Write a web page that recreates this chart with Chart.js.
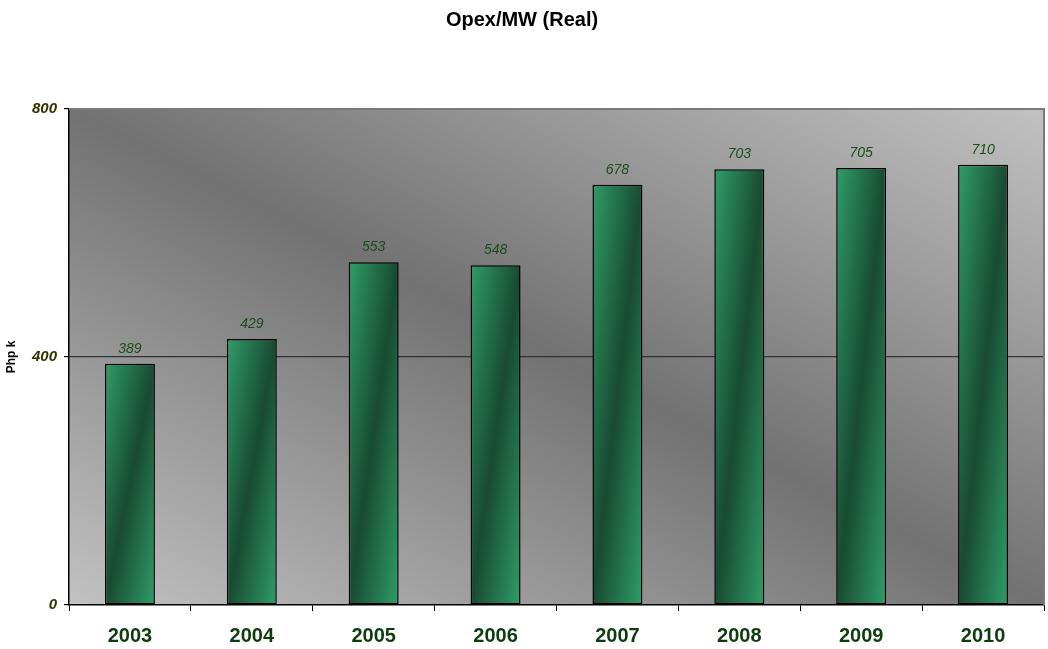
<!DOCTYPE html>
<html>
<head>
<meta charset="utf-8">
<title>Opex/MW (Real)</title>
<script src="https://cdn.jsdelivr.net/npm/chart.js@4/dist/chart.umd.min.js"></script>
<style>
  html, body { margin: 0; padding: 0; background: #ffffff; }
  #wrap { width: 1048px; height: 649px; }
</style>
</head>
<body>
<div id="wrap"><canvas id="chart" width="1048" height="649"></canvas></div>
<script>
// Opex per MW in real terms, thousands of pesos
const years = ['2003', '2004', '2005', '2006', '2007', '2008', '2009', '2010'];
const opexPerMW = [389, 429, 553, 548, 678, 703, 705, 710];
const yTicks = [0, 400, 800];

const FONT = '"Liberation Sans", Arial, sans-serif';

// Diagonal light-dark-light shading across the plot area
const plotBackground = {
  id: 'plotBackground',
  beforeDraw(chart) {
    const a = chart.chartArea;
    if (!a) return;
    const ctx = chart.ctx;
    const w = a.right - a.left, h = a.bottom - a.top;
    const cx = a.left + w / 2, cy = a.top + h / 2;
    const k = (w * h) / (w * w + h * h);
    // isolines run parallel to the top-left / bottom-right diagonal
    const g = ctx.createLinearGradient(cx - k * h, cy + k * w, cx + k * h, cy - k * w);
    g.addColorStop(0, '#c2c2c2');
    g.addColorStop(0.5, '#727272');
    g.addColorStop(1, '#c2c2c2');
    ctx.save();
    ctx.fillStyle = g;
    ctx.fillRect(a.left, a.top, w, h);
    ctx.restore();
  },
  afterDraw(chart) {
    const a = chart.chartArea;
    const ctx = chart.ctx;
    ctx.save();
    ctx.strokeStyle = '#7a7a7a';
    ctx.lineWidth = 2;
    ctx.beginPath();
    ctx.moveTo(a.left, a.top);
    ctx.lineTo(a.right, a.top);
    ctx.lineTo(a.right, a.bottom);
    ctx.stroke();
    ctx.restore();
  }
};

// Value labels above each bar
const valueLabels = {
  id: 'valueLabels',
  afterDatasetsDraw(chart) {
    const ctx = chart.ctx;
    const meta = chart.getDatasetMeta(0);
    ctx.save();
    ctx.font = 'italic 14px ' + FONT;
    ctx.fillStyle = '#1d4a1d';
    ctx.textAlign = 'center';
    ctx.textBaseline = 'middle';
    meta.data.forEach((bar, i) => {
      ctx.fillText(String(opexPerMW[i]), bar.x, bar.y - 15);
    });
    ctx.restore();
  }
};

// Each bar gets its own diagonal gradient: light corners, dark band along
// the top-right / bottom-left diagonal
function barFill(context) {
  const chart = context.chart;
  const xs = chart.scales.x, ys = chart.scales.y;
  if (!xs || !ys || !chart.chartArea) return '#2a8a5c';
  const i = context.dataIndex;
  const v = opexPerMW[i];
  const cx = xs.getPixelForValue(i);
  const bw = (xs.width / years.length) * 0.41;
  const top = ys.getPixelForValue(v);
  const base = ys.getPixelForValue(0);
  const w = bw, h = base - top;
  const my = top + h / 2;
  const k = (w * h) / (w * w + h * h);
  const g = chart.ctx.createLinearGradient(cx - k * h, my - k * w, cx + k * h, my + k * w);
  g.addColorStop(0, '#2f9d68');
  g.addColorStop(0.5, '#184a32');
  g.addColorStop(1, '#2f9d68');
  return g;
}

new Chart(document.getElementById('chart'), {
  type: 'bar',
  data: {
    labels: years,
    datasets: [{
      data: opexPerMW,
      backgroundColor: barFill,
      borderColor: '#000000',
      borderWidth: 1.5,
      borderSkipped: false,
      barPercentage: 0.41,
      categoryPercentage: 1.0
    }]
  },
  options: {
    responsive: false,
    animation: false,
    layout: { padding: { left: 0, right: 4, top: 0, bottom: 0 } },
    plugins: {
      legend: { display: false },
      tooltip: { enabled: false },
      title: {
        display: true,
        text: 'Opex/MW (Real)',
        color: '#000000',
        font: { family: FONT, size: 20, weight: 'bold' },
        padding: { top: 8, bottom: 77 }
      }
    },
    scales: {
      x: {
        offset: true,
        border: { display: true, color: '#000000', width: 1.5 },
        grid: {
          offset: true,
          drawOnChartArea: false,
          drawTicks: true,
          tickLength: 6,
          tickColor: '#000000'
        },
        ticks: {
          color: '#0d3d0d',
          padding: 13,
          font: { family: FONT, size: 20, weight: 'bold' }
        },
        afterFit(scale) { scale.height = 44; }
      },
      y: {
        min: 0,
        max: 800,
        afterBuildTicks(scale) { scale.ticks = yTicks.map(v => ({ value: v })); },
        border: { display: true, color: '#000000', width: 1.5 },
        grid: {
          color: ctx => (ctx.tick && ctx.tick.value === 400) ? '#333333' : 'rgba(0,0,0,0)',
          lineWidth: 1.2,
          drawTicks: true,
          tickLength: 5,
          tickColor: '#000000'
        },
        ticks: {
          color: '#333300',
          padding: 7,
          font: { family: FONT, size: 15, style: 'italic', weight: 'bold' }
        },
        title: {
          display: true,
          text: 'Php k',
          color: '#000000',
          font: { family: FONT, size: 12, weight: 'bold' },
          padding: { top: 4, bottom: 0 }
        },
        afterFit(scale) { scale.width = 69; }
      }
    }
  },
  plugins: [plotBackground, valueLabels]
});
</script>
</body>
</html>
